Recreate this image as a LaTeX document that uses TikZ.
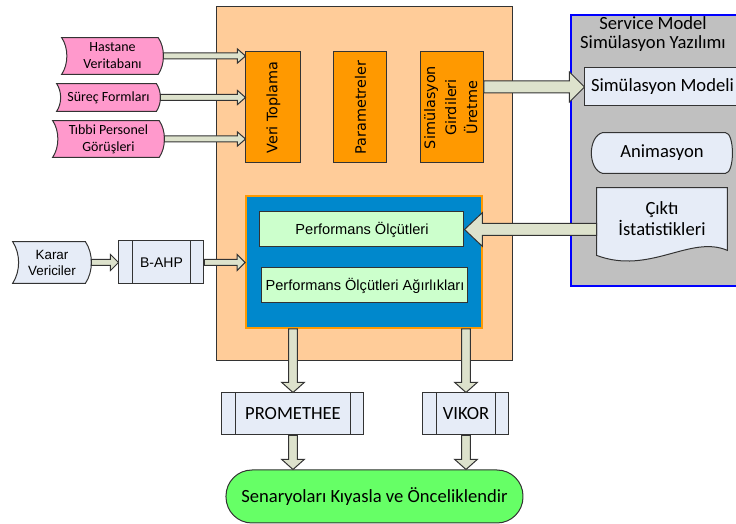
\documentclass[tikz,border=0pt]{standalone}
\usepackage{fontspec}
\usepackage{graphicx}
\setmainfont{Carlito}
\newfontfamily\arialfont{Liberation Sans}
\newfontfamily\verdfont{DejaVu Sans}
\usetikzlibrary{calc,backgrounds}
\definecolor{peach}{HTML}{FFCC99}
\definecolor{orng}{HTML}{FF9900}
\definecolor{bluebox}{HTML}{0088CC}
\definecolor{lgreen}{HTML}{CCFFCC}
\definecolor{pinkbox}{HTML}{FF99CC}
\definecolor{lblue}{HTML}{E6ECF7}
\definecolor{greybox}{HTML}{C0C0C0}
\definecolor{brgreen}{HTML}{66FF66}
\definecolor{arrfill}{HTML}{DDE2CC}
\tikzset{bshaft/.store in=\bashaft, bhead/.store in=\bahead, blen/.store in=\balen,
  bshaft=1.5pt, bhead=3.5pt, blen=4pt}
\begin{document}
\begin{tikzpicture}[x=0.5pt,y=-0.5pt]
\tikzstyle{box}=[draw=black!80, line width=0.5pt, inner sep=0pt, align=center]
\tikzstyle{obox}=[box, fill=orng, minimum height=55.5pt, font=\verdfont\fontsize{7.2}{10.5}\selectfont]
\tikzstyle{gbox}=[box, fill=lgreen, minimum height=17.5pt, font=\arialfont\fontsize{7.3}{9}\selectfont]
\tikzstyle{proc}=[box, fill=lblue, minimum height=21pt, font=\fontsize{9.3}{11}\selectfont]
\tikzstyle{plain}=[inner sep=0pt, align=center]
\tikzstyle{pinkfill}=[draw=black!80, line width=0.5pt, fill=pinkbox]
\tikzstyle{bluefill}=[draw=black!80, line width=0.5pt, fill=lblue]
\tikzstyle{barrow}=[draw=black!80, fill=arrfill, line width=0.5pt, line join=miter,
  to path={($(\tikztotarget)!\balen!(\tikztostart)$) coordinate (bhd)
    ($(\tikztostart)!\bashaft!90:(\tikztotarget)$) -- ($(bhd)!\bashaft!-90:(\tikztostart)$)
    -- ($(bhd)!\bahead!-90:(\tikztostart)$) -- (\tikztotarget)
    -- ($(bhd)!\bahead!90:(\tikztostart)$) -- ($(bhd)!\bashaft!90:(\tikztostart)$)
    -- ($(\tikztostart)!\bashaft!-90:(\tikztotarget)$) -- cycle}]
\useasboundingbox (0,0) rectangle (736,524);

% inputs
\draw node[plain, minimum width=50.5pt, minimum height=18pt, font=\fontsize{7}{8.5}\selectfont] (hdb) at (112.5,56) {Hastane\\Veritabanı};
\draw node[plain, minimum width=51.5pt, minimum height=13.5pt, font=\fontsize{7}{8.5}\selectfont] (surec) at (108.5,97.5) {Süreç Formları};
\draw node[plain, minimum width=55.5pt, minimum height=18pt, font=\fontsize{7}{8.5}\selectfont] (tibbi) at (108.5,139) {Tıbbi Personel\\Görüşleri};
\draw node[plain, minimum width=39pt, minimum height=20.5pt, font=\arialfont\fontsize{6.7}{8}\selectfont] (karar) at (52,262.5) {Karar\\Vericiler};
\draw node[box, fill=lblue, minimum width=42.5pt, minimum height=21.5pt, font=\arialfont\fontsize{7}{9}\selectfont] (bahp) at (161.5,262.5) {B-AHP};

% orange steps
\draw node[obox, minimum width=27.5pt] (veri) at (273.5,107.5) {\rotatebox{90}{Veri Toplama}};
\draw node[obox, minimum width=26.5pt] (param) at (360.5,107.5) {\rotatebox{90}{Parametreler}};
\draw node[obox, minimum width=31pt] (sgu) at (452,107.5) {\rotatebox{90}{\begin{tabular}{@{}c@{}}Simülasyon\\Girdileri\\Üretme\end{tabular}}};

% criteria
\draw node[box, draw=orng, line width=0.8pt, fill=bluebox, minimum width=118pt, minimum height=66pt] (pbox) at (364,262) {};
\draw node[gbox, minimum width=102pt] (perf) at (362,229.5) {Performans Ölçütleri};
\draw node[gbox, minimum width=103pt] (agir) at (365,285.5) {Performans Ölçütleri Ağırlıkları};

% simulation software
\draw node[plain, font=\fontsize{9.3}{9.8}\selectfont] (title) at (653,34) {Service Model\\Simülasyon Yazılımı};
\draw node[proc, minimum width=77.5pt, minimum height=19pt] (simm) at (662.5,87) {Simülasyon Modeli};
\draw node[plain, minimum width=70pt, minimum height=20pt, font=\fontsize{9.3}{11}\selectfont] (anim) at (662,153) {Animasyon};
\draw node[plain, minimum width=65pt, minimum height=31pt, font=\fontsize{9.3}{10.5}\selectfont] (cikti) at (662,219) {Çıktı\\İstatistikleri};

% ranking
\draw node[proc, minimum width=71pt] (prom) at (293,414) {PROMETHEE};
\draw node[proc, minimum width=43pt] (vikor) at (466,414) {VIKOR};
\draw node[box, fill=brgreen, rounded corners=13pt, minimum width=148.5pt, minimum height=26.5pt, font=\fontsize{9.3}{11}\selectfont] (sen) at (374.5,496.5) {Senaryoları Kıyasla ve Önceliklendir};

\foreach \n in {bahp,prom,vikor} {
  \draw[black!80, line width=0.5pt] ([xshift=7pt]\n.north west) -- ([xshift=7pt]\n.south west);
  \draw[black!80, line width=0.5pt] ([xshift=-7pt]\n.north east) -- ([xshift=-7pt]\n.south east);
}

% block arrows
\draw[barrow] (hdb.east) to (hdb.east -| veri.west);
\draw[barrow] (surec.east) to (surec.east -| veri.west);
\draw[barrow] (tibbi.east) to (tibbi.east -| veri.west);
\draw[barrow, bhead=4pt] (karar.east) to (bahp.west);
\draw[barrow, bhead=4pt] (bahp.east) to (bahp.east -| pbox.west);
\draw[barrow, bshaft=3pt, bhead=7.5pt, blen=7.5pt] (simm.west -| sgu.east) to (simm.west);
\draw[barrow, bshaft=3pt, bhead=8.5pt, blen=9pt] (perf.east -| cikti.west) to (perf.east);
\draw[barrow, bshaft=2.2pt, bhead=5.6pt, blen=5pt] (prom.north |- pbox.south) to (prom.north);
\draw[barrow, bshaft=2.2pt, bhead=5.6pt, blen=5pt] (vikor.north |- pbox.south) to (vikor.north);
\draw[barrow, bshaft=2.2pt, bhead=5.6pt, blen=5pt] (prom.south) to (prom.south |- sen.north);
\draw[barrow, bshaft=2.2pt, bhead=5.6pt, blen=5pt] (vikor.south) to (vikor.south |- sen.north);

\begin{scope}[on background layer]
\draw node[box, fill=peach, minimum width=148pt, minimum height=177pt] (main) at (365,184) {};
\draw node[box, draw=blue, line width=0.8pt, fill=greybox, minimum width=84.5pt, minimum height=135.5pt] (smbox) at (655.5,150.5) {};
\draw[pinkfill] (hdb.north west) .. controls +(3.5pt,-5pt) and +(3.5pt,5pt) .. (hdb.south west) -- ([xshift=-2.6pt]hdb.south east) .. controls +(3.5pt,5pt) and +(3.5pt,-5pt) .. ([xshift=-2.6pt]hdb.north east) -- cycle;
\draw[pinkfill] (surec.north west) .. controls +(2.7pt,-4pt) and +(2.7pt,4pt) .. (surec.south west) -- ([xshift=-2pt]surec.south east) .. controls +(2.7pt,4pt) and +(2.7pt,-4pt) .. ([xshift=-2pt]surec.north east) -- cycle;
\draw[pinkfill] (tibbi.north west) .. controls +(3.5pt,-5pt) and +(3.5pt,5pt) .. (tibbi.south west) -- ([xshift=-2.6pt]tibbi.south east) .. controls +(3.5pt,5pt) and +(3.5pt,-5pt) .. ([xshift=-2.6pt]tibbi.north east) -- cycle;
\draw[bluefill] (karar.north west) .. controls +(4pt,-6pt) and +(4pt,6pt) .. (karar.south west) -- ([xshift=-3pt]karar.south east) .. controls +(4pt,6pt) and +(4pt,-6pt) .. ([xshift=-3pt]karar.north east) -- cycle;
\draw[bluefill] ([xshift=5.5pt]anim.north west) -- ([xshift=-3.5pt]anim.north east) .. controls +(4.7pt,0pt) and +(4.7pt,0pt) .. ([xshift=-3.5pt]anim.south east) -- ([xshift=5.5pt]anim.south west) .. controls +(-7.5pt,2pt) and +(-7.5pt,-2pt) .. cycle;
\draw[bluefill] (cikti.north west) -- (cikti.north east) -- (cikti.south east) .. controls +(-18.5pt,8pt) and +(26.5pt,-10pt) .. ([yshift=-2.5pt]cikti.south west) -- cycle;
\end{scope}
\end{tikzpicture}
\end{document}
